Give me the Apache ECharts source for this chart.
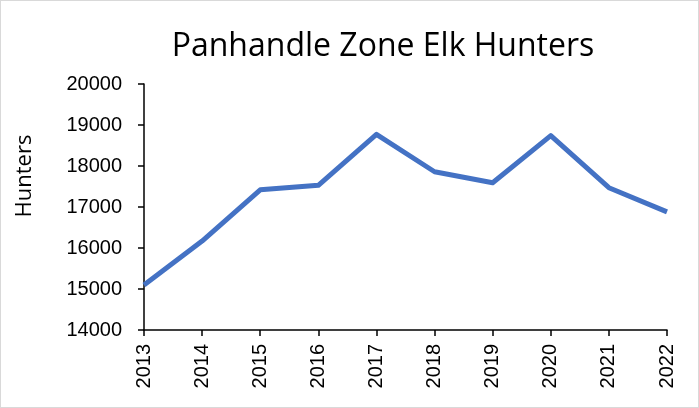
<!DOCTYPE html>
<html>
<head>
<meta charset="utf-8">
<script src="https://cdn.jsdelivr.net/npm/echarts@6/dist/echarts.min.js"></script>
<style>
  html, body { margin: 0; padding: 0; background: #fff; }
  #chart { width: 697px; height: 406px; border: 1px solid #d9d9d9; }
</style>
</head>
<body>
<div id="chart"></div>
<script>
// chart data
const years = ['2013', '2014', '2015', '2016', '2017', '2018', '2019', '2020', '2021', '2022']
const hunters = [15100, 16170, 17420, 17530, 18770, 17860, 17590, 18740, 17470, 16880]

const chart = echarts.init(document.getElementById('chart'))

chart.setOption({
  animation: false,
  title: {
    text: 'Panhandle Zone Elk Hunters',
    left: 377,
    top: 25,
    textAlign: 'center',
    textStyle: {
      fontFamily: 'Open Sans',
      fontSize: 32,
      fontWeight: 'normal',
      color: '#000',
    },
  },
  // y axis title, placed like the original (above the plot centre)
  graphic: [
    {
      type: 'text',
      x: 13,
      y: 175,
      rotation: Math.PI / 2,
      style: {
        text: 'Hunters',
        fontFamily: 'Open Sans',
        fontSize: 22,
        fill: '#000',
        align: 'center',
        verticalAlign: 'top',
      },
    },
  ],
  grid: {
    left: 143,
    right: 31,
    top: 83,
    bottom: 77,
  },
  xAxis: {
    type: 'category',
    data: years,
    boundaryGap: false,
    axisLine: { lineStyle: { color: '#000', width: 1.5 } },
    axisTick: { show: true, length: 6, lineStyle: { color: '#000', width: 1.5 } },
    axisLabel: {
      rotate: 90,
      fontFamily: 'Liberation Sans',
      fontSize: 20,
      color: '#000',
      margin: 14,
    },
  },
  yAxis: {
    type: 'value',
    min: 14000,
    max: 20000,
    interval: 1000,
    axisLine: { show: true, lineStyle: { color: '#000', width: 1.5 } },
    axisTick: { show: true, length: 6, lineStyle: { color: '#000', width: 1.5 } },
    splitLine: { show: false },
    axisLabel: {
      fontFamily: 'Liberation Sans',
      fontSize: 20,
      color: '#000',
      margin: 22,
      formatter: (v) => String(v),
    },
  },
  series: [
    {
      type: 'line',
      data: hunters,
      symbol: 'none',
      lineStyle: { color: '#4472C4', width: 5, join: 'round' },
    },
  ],
})
</script>
</body>
</html>
